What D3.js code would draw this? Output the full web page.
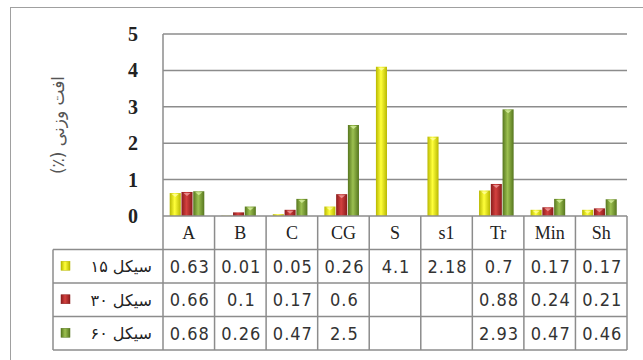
<!DOCTYPE html>
<html lang="fa">
<head>
<meta charset="utf-8">
<title>weight loss chart</title>
<script src="https://cdn.jsdelivr.net/npm/d3@7"></script>
<style>
  body { margin: 0; background: #fff; }
  .ytick { font-family: "Liberation Serif", serif; font-size: 20px; font-weight: bold; fill: #222; }
  .cat { font-family: "Liberation Serif", serif; font-size: 18px; fill: #222; }
  .val { font-family: "Liberation Sans Narrow", "DejaVu Sans Condensed", "Liberation Sans", sans-serif; font-size: 18px; letter-spacing: 1px; fill: #333; }
  .leg { font-family: "DejaVu Sans", "Noto Sans", sans-serif; font-size: 16px; fill: #222; }
  .ytitle { font-family: "DejaVu Sans", "Noto Sans", sans-serif; font-size: 17px; fill: #555; }
</style>
</head>
<body>
<div id="chart"></div>
<script>
// data
var categories = ["A", "B", "C", "CG", "S", "s1", "Tr", "Min", "Sh"];
var cycle15 = [0.63, 0.01, 0.05, 0.26, 4.1, 2.18, 0.7, 0.17, 0.17];
var cycle30 = [0.66, 0.1, 0.17, 0.6, null, null, 0.88, 0.24, 0.21];
var cycle60 = [0.68, 0.26, 0.47, 2.5, null, null, 2.93, 0.47, 0.46];
var seriesNames = ["سیکل ۱۵", "سیکل ۳۰", "سیکل ۶۰"];
var yTicks = [0, 1, 2, 3, 4, 5];
var yTitle = "افت وزنی (٪)";

var series = [cycle15, cycle30, cycle60];
var colors = [
  {edge: "#b8b800", mid: "#ffff3a", top: "#ffffa0"},
  {edge: "#8a1c1c", mid: "#d4413f", top: "#f0a0a0"},
  {edge: "#56761e", mid: "#9cc050", top: "#d8f0a0"}
];

var width = 643, height = 360;
var plotLeft = 163, plotRight = 627, plotTop = 34, plotBottom = 216;
var tableLeft = 53, rowH = 33.5;

var svg = d3.select("#chart").append("svg")
  .attr("width", width)
  .attr("height", height);

// bar gradients
var defs = svg.append("defs");
colors.forEach(function(c, i) {
  var g = defs.append("linearGradient").attr("id", "grad" + i)
    .attr("x1", "0%").attr("x2", "100%").attr("y1", "0%").attr("y2", "0%");
  g.append("stop").attr("offset", "0%").attr("stop-color", c.edge);
  g.append("stop").attr("offset", "45%").attr("stop-color", c.mid);
  g.append("stop").attr("offset", "100%").attr("stop-color", c.edge);
});

// outer frame
svg.append("rect")
  .attr("x", 10.5).attr("y", 7.5)
  .attr("width", 660).attr("height", 380)
  .attr("fill", "none").attr("stroke", "#a0a0a0").attr("stroke-width", 1);

var x = d3.scaleBand().domain(categories).range([plotLeft, plotRight]).padding(0);
var xs = d3.scaleBand().domain([0, 1, 2]).range([6, 42]).padding(0.06);
var y = d3.scaleLinear().domain([0, 5]).range([plotBottom, plotTop]);

// gridlines
svg.append("g").selectAll("line")
  .data(yTicks.filter(function(d) { return d > 0; }))
  .enter().append("line")
  .attr("x1", plotLeft).attr("x2", plotRight)
  .attr("y1", function(d) { return y(d); })
  .attr("y2", function(d) { return y(d); })
  .attr("stroke", "#8c8c8c").attr("stroke-width", 1.5);

// y tick labels
svg.append("g").selectAll("text")
  .data(yTicks).enter().append("text")
  .attr("class", "ytick")
  .attr("x", 133)
  .attr("y", function(d) { return y(d); })
  .attr("dy", "0.35em")
  .attr("text-anchor", "middle")
  .text(function(d) { return d; });

// y title (right-to-left so the parenthesis sits at the end)
svg.append("text")
  .attr("class", "ytitle")
  .attr("transform", "translate(64,125) rotate(-90)")
  .attr("text-anchor", "middle")
  .attr("direction", "rtl")
  .style("unicode-bidi", "embed")
  .text(yTitle);

// bars
var flat = [];
series.forEach(function(s, si) {
  s.forEach(function(v, ci) {
    if (v != null) flat.push({cat: categories[ci], s: si, v: v});
  });
});

var bars = svg.append("g").selectAll("g.bar")
  .data(flat).enter().append("g").attr("class", "bar");

bars.append("rect")
  .attr("x", function(d) { return x(d.cat) + xs(d.s); })
  .attr("y", function(d) { return y(d.v); })
  .attr("width", xs.bandwidth())
  .attr("height", function(d) { return plotBottom - y(d.v); })
  .attr("fill", function(d) { return "url(#grad" + d.s + ")"; });

// small lighter cap on top of each bar
bars.filter(function(d) { return plotBottom - y(d.v) > 4; })
  .append("path")
  .attr("d", function(d) {
    var x0 = x(d.cat) + xs(d.s), w = xs.bandwidth(), t = y(d.v);
    return "M" + (x0 + 2) + "," + (t + 1) + "L" + (x0 + w - 2) + "," + (t + 1) + "L" + (x0 + w / 2) + "," + (t + 4) + "Z";
  })
  .attr("fill", function(d) { return colors[d.s].top; })
  .attr("opacity", 0.8);

// y axis line
svg.append("line")
  .attr("x1", plotLeft).attr("x2", plotLeft)
  .attr("y1", plotTop).attr("y2", plotBottom)
  .attr("stroke", "#8c8c8c").attr("stroke-width", 1.5);

// data table
var table = svg.append("g");
var tableBottom = plotBottom + rowH * 4;
var lineCol = "#8c8c8c";

// horizontal lines
[0, 1, 2, 3, 4].forEach(function(r) {
  var yy = plotBottom + r * rowH;
  table.append("line")
    .attr("x1", r === 0 ? plotLeft : tableLeft).attr("x2", plotRight)
    .attr("y1", yy).attr("y2", yy)
    .attr("stroke", lineCol).attr("stroke-width", 1.5);
});

// vertical lines
var vx = categories.map(function(c) { return x(c); }).concat([plotRight]);
vx.forEach(function(xx) {
  table.append("line")
    .attr("x1", xx).attr("x2", xx)
    .attr("y1", plotBottom).attr("y2", tableBottom)
    .attr("stroke", lineCol).attr("stroke-width", 1.5);
});
table.append("line")
  .attr("x1", tableLeft).attr("x2", tableLeft)
  .attr("y1", plotBottom + rowH).attr("y2", tableBottom)
  .attr("stroke", lineCol).attr("stroke-width", 1.5);

// category header
table.selectAll("text.cat")
  .data(categories).enter().append("text")
  .attr("class", "cat")
  .attr("x", function(d) { return x(d) + x.bandwidth() / 2; })
  .attr("y", plotBottom + rowH / 2)
  .attr("dy", "0.36em")
  .attr("text-anchor", "middle")
  .text(function(d) { return d; });

// value rows
series.forEach(function(s, si) {
  var rowY = plotBottom + rowH * (si + 1) + rowH / 2;
  table.append("g").selectAll("text")
    .data(s).enter().append("text")
    .attr("class", "val")
    .attr("x", function(d, i) { return x(categories[i]) + x.bandwidth() / 2 + 1; })
    .attr("y", rowY)
    .attr("dy", "0.36em")
    .attr("text-anchor", "middle")
    .text(function(d) { return d == null ? "" : d; });

  // legend key
  table.append("rect")
    .attr("x", 61).attr("y", rowY - 5)
    .attr("width", 9).attr("height", 9)
    .attr("fill", "url(#grad" + si + ")")
    .attr("stroke", colors[si].edge).attr("stroke-width", 0.5);
  table.append("text")
    .attr("class", "leg")
    .attr("x", 152).attr("y", rowY)
    .attr("dy", "0.36em")
    .attr("text-anchor", "end")
    .text(seriesNames[si]);
});
</script>
</body>
</html>
